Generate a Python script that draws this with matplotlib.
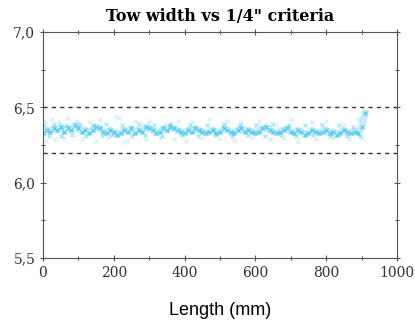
import matplotlib.pyplot as plt
import numpy as np

# tow width readings, one every 10 mm along the tow
length_mm = np.arange(0, 920, 10)
width_mm = [6.33, 6.35, 6.34, 6.36, 6.35, 6.37, 6.34, 6.36, 6.35, 6.38,
            6.36, 6.34, 6.35, 6.33, 6.35, 6.37, 6.36, 6.34, 6.33, 6.35,
            6.34, 6.32, 6.33, 6.35, 6.34, 6.36, 6.33, 6.35, 6.34, 6.37,
            6.36, 6.35, 6.33, 6.34, 6.36, 6.35, 6.37, 6.36, 6.35, 6.34,
            6.33, 6.35, 6.34, 6.36, 6.35, 6.34, 6.33, 6.34, 6.35, 6.33,
            6.34, 6.36, 6.35, 6.34, 6.33, 6.35, 6.36, 6.34, 6.35, 6.34,
            6.33, 6.34, 6.36, 6.37, 6.35, 6.34, 6.33, 6.34, 6.35, 6.36,
            6.34, 6.33, 6.35, 6.34, 6.32, 6.33, 6.35, 6.34, 6.33, 6.34,
            6.35, 6.33, 6.34, 6.32, 6.33, 6.35, 6.34, 6.33, 6.34, 6.33,
            6.37, 6.46]

# readings spread just around the main band
near_x = [3, 18, 32, 52, 66, 83, 104, 122, 141, 166, 178, 196, 224, 252,
          271, 287, 313, 336, 358, 392, 414, 437, 462, 488, 512, 533, 556,
          579, 603, 627, 648, 672, 694, 716, 741, 763, 787, 812, 836, 858, 877, 896]
near_y = [6.38, 6.31, 6.39, 6.31, 6.38, 6.32, 6.39, 6.31, 6.38, 6.31, 6.39, 6.32,
          6.38, 6.31, 6.39, 6.32, 6.38, 6.31, 6.39, 6.32, 6.38, 6.31, 6.38, 6.32,
          6.39, 6.31, 6.38, 6.32, 6.38, 6.31, 6.39, 6.32, 6.38, 6.31, 6.38, 6.32,
          6.38, 6.31, 6.38, 6.31, 6.37, 6.31]

# scattered readings above and below the main band
high_x = [5, 25, 45, 70, 95, 130, 160, 205, 215, 260, 300, 345, 380, 420,
          470, 520, 560, 610, 655, 700, 760, 800, 850, 890]
high_y = [6.41, 6.42, 6.40, 6.43, 6.41, 6.40, 6.42, 6.44, 6.43, 6.41, 6.40, 6.39,
          6.41, 6.40, 6.42, 6.41, 6.40, 6.41, 6.39, 6.42, 6.40, 6.41, 6.39, 6.42]
low_x = [8, 35, 60, 110, 150, 185, 230, 240, 290, 330, 370, 405, 450, 500,
         540, 590, 640, 680, 720, 770, 820, 865, 900]
low_y = [6.28, 6.29, 6.30, 6.29, 6.28, 6.30, 6.27, 6.28, 6.29, 6.30, 6.29, 6.28,
         6.30, 6.29, 6.28, 6.30, 6.29, 6.30, 6.28, 6.29, 6.30, 6.29, 6.30]

# 1/4" criteria limits
upper_limit = 6.5
lower_limit = 6.2

blue = '#3ec3ee'

fig = plt.figure(figsize=(4.15, 3.31), dpi=100)
ax = fig.add_axes([0.1036, 0.2205, 0.853, 0.6825])

ax.plot(length_mm, width_mm, color=blue, lw=5, alpha=0.3)
ax.plot(length_mm, width_mm, 'x', color=blue, ms=3.5, mew=0.9, alpha=0.8)
ax.plot(near_x, near_y, 'x', color=blue, ms=3.5, mew=0.8, alpha=0.5)
ax.plot(high_x, high_y, 'x', color=blue, ms=3, mew=0.7, alpha=0.3)
ax.plot(low_x, low_y, 'x', color=blue, ms=3, mew=0.7, alpha=0.3)

ax.axhline(upper_limit, color='#333333', ls=(0, (3, 3)), lw=1)
ax.axhline(lower_limit, color='#333333', ls=(0, (3, 3)), lw=1)

ax.set_xlim(0, 1000)
ax.set_ylim(5.5, 7.0)
ax.set_xticks([0, 200, 400, 600, 800, 1000])
ax.set_xticks(np.arange(100, 1000, 200), minor=True)
ax.set_yticks([5.5, 6.0, 6.5, 7.0])
ax.set_yticks([5.75, 6.25, 6.75], minor=True)
ax.set_yticklabels(['5,5', '6,0', '6,5', '7,0'])
ax.tick_params(which='both', direction='inout', top=True, right=True,
               length=4, width=0.8, color='#555555')
ax.tick_params(which='minor', length=3)
for lab in ax.get_xticklabels() + ax.get_yticklabels():
    lab.set_family('DejaVu Serif')
    lab.set_fontsize(10)
    lab.set_color('#333333')
for sp in ax.spines.values():
    sp.set_color('#555555')
    sp.set_linewidth(0.8)

ax.set_title('Tow width vs 1/4" criteria', family='DejaVu Serif',
             fontweight='bold', fontsize=11.5, pad=8)
ax.set_xlabel('Length (mm)', family='Liberation Sans', fontsize=13, labelpad=16)

fig.savefig('out.png', dpi=100)
